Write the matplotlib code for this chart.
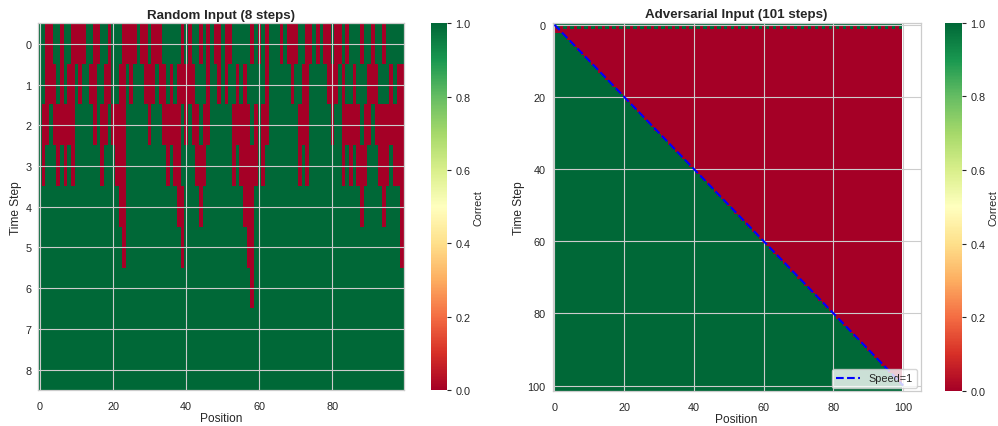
import numpy as np
import matplotlib.pyplot as plt

plt.rcParams['font.family'] = ['Liberation Sans', 'DejaVu Sans']
plt.rcParams.update({
    'text.color': '.15',
    'axes.labelcolor': '.15',
    'xtick.color': '.15',
    'ytick.color': '.15',
    'axes.edgecolor': '.8',
    'axes.linewidth': 0.9,
    'grid.color': '.8',
    'grid.linewidth': 0.8,
    'xtick.bottom': False,
    'ytick.left': False,
    'xtick.major.size': 0,
    'ytick.major.size': 0,
    'xtick.major.pad': 8,
    'ytick.major.pad': 5,
    'axes.axisbelow': True,
})

# ---------------- Random input (8 steps) ----------------
# positions that are still wrong at each time step
n_pos = 100
wrong_t0 = [2, 3, 6, 9, 10, 11, 12, 15, 16, 19, 23, 24, 25, 26, 28, 29, 31, 32, 33, 39,
            41, 44, 46, 48, 49, 51, 52, 58, 60, 62, 66, 68, 69, 70, 73, 74, 76, 78, 79,
            81, 82, 84, 88, 91, 94]
wrong_t1 = [2, 3, 4, 6, 8, 9, 11, 14, 15, 18, 19, 22, 23, 25, 29, 30, 31, 33, 34, 36,
            38, 39, 40, 41, 42, 46, 49, 51, 54, 56, 62, 69, 72, 73, 79, 80, 81, 83, 86,
            90, 91, 92, 96, 98, 99]
wrong_t2 = [1, 2, 4, 5, 6, 7, 8, 9, 15, 17, 18, 20, 21, 22, 23, 30, 34, 35, 36, 37, 38,
            40, 42, 43, 45, 46, 53, 54, 55, 56, 57, 59, 61, 62, 71, 72, 73, 80, 83, 84,
            85, 86, 87, 89, 90, 92, 93, 94, 95, 96, 97, 98, 99]
wrong_t3 = [1, 5, 7, 9, 17, 21, 22, 23, 35, 37, 38, 43, 44, 45, 53, 55, 56, 57, 58, 59,
            61, 71, 73, 83, 85, 87, 88, 89, 93, 94, 95, 97, 98, 99]
wrong_t4 = [22, 23, 38, 39, 44, 56, 57, 58, 88, 94, 99]
wrong_t5 = [23, 39, 57, 58, 99]
wrong_t6 = [58]
wrong_t7 = []
wrong_t8 = []
rand_wrong = [wrong_t0, wrong_t1, wrong_t2, wrong_t3, wrong_t4,
              wrong_t5, wrong_t6, wrong_t7, wrong_t8]

rand_grid = np.ones((len(rand_wrong), n_pos))
for t, cols in enumerate(rand_wrong):
    rand_grid[t, cols] = 0

# ---------------- Adversarial input (101 steps) ----------------
adv_row0 = [1] * n_pos
adv_row1 = [0, 1] * (n_pos // 2)
# number of correct cells (from the left) for steps 2..101
adv_correct_count = [
    0, 3, 4, 5, 6, 7, 8, 9, 10, 11, 12, 13, 14, 15, 16, 17, 18, 19, 20, 21,
    22, 23, 24, 25, 26, 27, 28, 29, 30, 31, 32, 33, 34, 35, 36, 37, 38, 39, 40, 41,
    42, 43, 44, 45, 46, 47, 48, 49, 50, 51, 52, 53, 54, 55, 56, 57, 58, 59, 60, 61,
    62, 63, 64, 65, 66, 67, 68, 69, 70, 71, 72, 73, 74, 75, 76, 77, 78, 79, 80, 81,
    82, 83, 84, 85, 86, 87, 88, 89, 90, 91, 92, 93, 94, 95, 96, 97, 98, 99, 100, 100,
]

adv_rows = [adv_row0, adv_row1]
for c in adv_correct_count:
    row = [0] * n_pos
    row[:c] = [1] * c
    adv_rows.append(row)
adv_grid = np.array(adv_rows, dtype=float)

speed_x = [0, 100]
speed_y = [0, 100]

# ---------------- Plot ----------------
W, H = 998, 427
fig = plt.figure(figsize=(W / 100, H / 100), dpi=100)

def px(x0, y0, x1, y1):
    return [x0 / W, 1 - y1 / H, (x1 - x0) / W, (y1 - y0) / H]

ax1 = fig.add_axes(px(38.2, 24.4, 403.5, 391))
cax1 = fig.add_axes(px(431, 24.4, 447, 391))
ax2 = fig.add_axes(px(552.6, 23.8, 920.7, 392))
cax2 = fig.add_axes(px(945, 23.8, 962, 392))

im1 = ax1.imshow(rand_grid, cmap='RdYlGn', vmin=0, vmax=1, aspect='auto',
                 interpolation='nearest')
ax1.set_title('Random Input (8 steps)', fontsize=9.6, fontweight='bold', pad=4)
ax1.set_xlabel('Position', fontsize=8.6, labelpad=1)
ax1.set_ylabel('Time Step', fontsize=8.6, labelpad=2)
ax1.set_xticks([0, 20, 40, 60, 80])
ax1.set_yticks(range(len(rand_wrong)))
ax1.grid(True)

im2 = ax2.imshow(adv_grid, cmap='RdYlGn', vmin=0, vmax=1, aspect='auto',
                 interpolation='nearest')
ax2.plot(speed_x, speed_y, 'b--', lw=1.5, label='Speed=1')
ax2.set_xlim(-0.5, 105)
ax2.set_ylim(101.5, -0.5)
ax2.set_title('Adversarial Input (101 steps)', fontsize=9.6, fontweight='bold', pad=4)
ax2.set_xlabel('Position', fontsize=8.6, labelpad=1)
ax2.set_ylabel('Time Step', fontsize=8.6, labelpad=2)
ax2.set_xticks([0, 20, 40, 60, 80, 100])
ax2.set_yticks([0, 20, 40, 60, 80, 100])
ax2.grid(True)
ax2.legend(loc='lower right', fontsize=7.8, framealpha=0.8, borderpad=0.4,
           handlelength=2.2, borderaxespad=0.3)

for ax in (ax1, ax2):
    ax.tick_params(labelsize=7.8)

for im, cax in ((im1, cax1), (im2, cax2)):
    cb = fig.colorbar(im, cax=cax)
    cb.set_ticks([0.0, 0.2, 0.4, 0.6, 0.8, 1.0])
    cb.set_label('Correct', fontsize=7.8, labelpad=2)
    cax.tick_params(labelsize=7.8, right=True, length=3, width=0.8, color='.15', pad=3)
    cb.outline.set_visible(False)
    cax.grid(False)

fig.savefig('out.png', dpi=100)
